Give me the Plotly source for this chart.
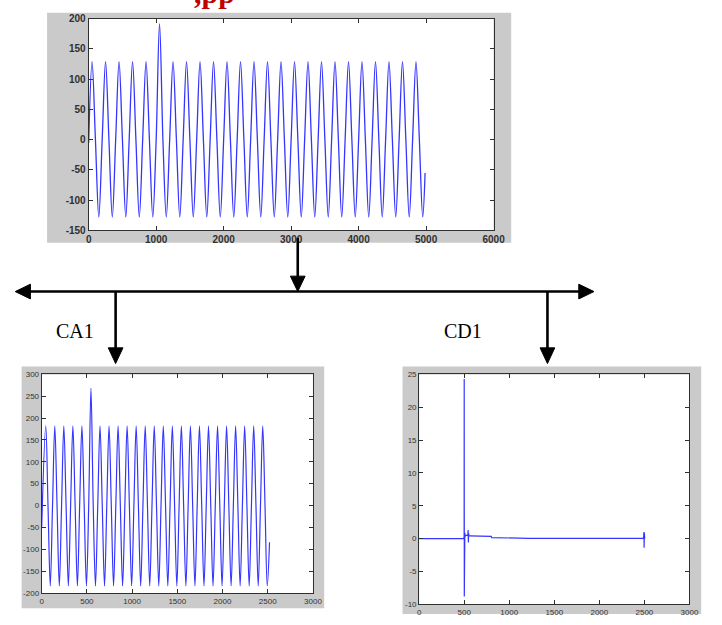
import plotly.graph_objects as go

W, H = 722, 625

# ---------------- data ----------------
# Original signal: sample positions of start, peaks, zero crossings, troughs, end
sig_x = [0] + [50 + 50 * j for j in range(99)] + [4985]
sig_y = [-5,
         129, 0, -128, 0,
         129, 0, -128, 0,
         129, 0, -128, 0,
         129, 0, -128, 0,
         129, 0, -128, 0,
         192, 0, -128, 0,
         129, 0, -128, 0,
         129, 0, -128, 0,
         129, 0, -128, 0,
         129, 0, -128, 0,
         129, 0, -128, 0,
         129, 0, -128, 0,
         129, 0, -128, 0,
         129, 0, -128, 0,
         129, 0, -128, 0,
         129, 0, -128, 0,
         129, 0, -128, 0,
         129, 0, -128, 0,
         129, 0, -128, 0,
         129, 0, -128, 0,
         129, 0, -128, 0,
         129, 0, -128, 0,
         129, 0, -128, 0,
         129, 0, -128, 0,
         129, 0, -128, -55]

# CA1 (approximation coefficients)
ca_x = [0] + [45 + 25 * j for j in range(99)] + [2520]
ca_y = [-50,
        182, 0, -184, 0,
        182, 0, -184, 0,
        182, 0, -184, 0,
        182, 0, -184, 0,
        182, 0, -184, 0,
        268, 0, -184, 0,
        182, 0, -184, 0,
        182, 0, -184, 0,
        182, 0, -184, 0,
        182, 0, -184, 0,
        182, 0, -184, 0,
        182, 0, -184, 0,
        182, 0, -184, 0,
        182, 0, -184, 0,
        182, 0, -184, 0,
        182, 0, -184, 0,
        182, 0, -184, 0,
        182, 0, -184, 0,
        182, 0, -184, 0,
        182, 0, -184, 0,
        182, 0, -184, 0,
        182, 0, -184, 0,
        182, 0, -184, 0,
        182, 0, -184, 0,
        182, 0, -184, -84]

# CD1 (detail coefficients)
cd_x = [0, 495, 499, 500, 501, 503, 505, 507, 510, 515, 540, 543, 546, 549, 552,
        560, 800, 805, 1220, 1225, 2490, 2495, 2497, 2499, 2501, 2503, 2510]
cd_y = [0, 0, 0.3, 24.3, -8.8, 1.3, -1.8, 0.9, 0.3, 0.5, 0.5, 1.3, -0.6, 0.8, 0.4,
        0.4, 0.35, 0.15, 0.1, 0.02, 0.02, 1.0, -1.4, 0.9, -0.8, 0.1, 0.1]

top_xticks = [0, 1000, 2000, 3000, 4000, 5000, 6000]
top_xlabels = ["0", "1000", "2000", "3000", "4000", "5000", "6000"]
top_yticks = [-150, -100, -50, 0, 50, 100, 150, 200]
top_ylabels = ["-150", "-100", "-50", "0", "50", "100", "150", "200"]
bot_xticks = [0, 500, 1000, 1500, 2000, 2500, 3000]
bot_xlabels = ["0", "500", "1000", "1500", "2000", "2500", "3000"]
ca_yticks = [-200, -150, -100, -50, 0, 50, 100, 150, 200, 250, 300]
ca_ylabels = ["-200", "-150", "-100", "-50", "0", "50", "100", "150", "200", "250", "300"]
cd_yticks = [-10, -5, 0, 5, 10, 15, 20, 25]
cd_ylabels = ["-10", "-5", "0", "5", "10", "15", "20", "25"]

label_left = "CA1"
label_right = "CD1"
title_fragment = ",pp"

# ---------------- helpers ----------------
def px(x):
    return x / W

def py(y):
    return 1 - y / H

LINE = "#3535ff"

fig = go.Figure()
fig.add_trace(go.Scatter(x=sig_x, y=sig_y, mode="lines", xaxis="x", yaxis="y",
                         line=dict(color=LINE, width=1.3, shape="spline", smoothing=1.0)))
fig.add_trace(go.Scatter(x=ca_x, y=ca_y, mode="lines", xaxis="x2", yaxis="y2",
                         line=dict(color=LINE, width=1.2, shape="spline", smoothing=1.0)))
fig.add_trace(go.Scatter(x=cd_x, y=cd_y, mode="lines", xaxis="x3", yaxis="y3",
                         line=dict(color=LINE, width=1.2)))

def axis(dom, rng, tv, tt, font, anchor):
    return dict(domain=dom, range=rng, tickvals=tv, ticktext=tt, tickfont=font,
                anchor=anchor, showline=True, linecolor="#303030", linewidth=1,
                mirror="ticks", ticks="inside", ticklen=4, tickcolor="#303030",
                showgrid=False, zeroline=False, fixedrange=True)

top_font = dict(family="Liberation Sans, Arial", size=10, color="#303030", weight="bold")
bot_font = dict(family="Liberation Sans, Arial", size=8, color="#333333")

# plot areas in pixels
TOP = (87.5, 14, 501, 229.5)
BL = (39.5, 376, 316.5, 598.5)
BR = (425, 376, 701, 610)

def dom_x(r):
    return [px(r[0]), px(r[2])]

def dom_y(r):
    return [py(r[3]), py(r[1])]

fig.update_layout(
    width=W, height=H, autosize=False,
    margin=dict(l=0, r=0, t=0, b=0, pad=0),
    paper_bgcolor="white", plot_bgcolor="white",
    showlegend=False,
    xaxis=axis(dom_x(TOP), [0, 6000], top_xticks, top_xlabels, top_font, "y"),
    yaxis=axis(dom_y(TOP), [-150, 200], top_yticks, top_ylabels, top_font, "x"),
    xaxis2=axis(dom_x(BL), [0, 3000], bot_xticks, bot_xlabels, bot_font, "y2"),
    yaxis2=axis(dom_y(BL), [-200, 300], ca_yticks, ca_ylabels, bot_font, "x2"),
    xaxis3=axis(dom_x(BR), [0, 3000], bot_xticks, bot_xlabels, bot_font, "y3"),
    yaxis3=axis(dom_y(BR), [-10, 25], cd_yticks, cd_ylabels, bot_font, "x3"),
)

shapes = []
GREY = "#cacaca"
# grey figure panels and white axes areas
for g, r in [((45, 8, 519, 242), TOP), ((19, 368, 328, 614), BL), ((408, 368, 713, 620), BR)]:
    shapes.append(dict(type="rect", xref="paper", yref="paper", layer="below",
                       x0=px(g[0]), x1=px(g[2]), y0=py(g[3]), y1=py(g[1]),
                       fillcolor=GREY, line=dict(width=0)))
    shapes.append(dict(type="rect", xref="paper", yref="paper", layer="below",
                       x0=px(r[0]), x1=px(r[2]), y0=py(r[3]), y1=py(r[1]),
                       fillcolor="white", line=dict(width=0)))

def seg(x0, y0, x1, y1, w=2.6):
    shapes.append(dict(type="line", xref="paper", yref="paper",
                       x0=px(x0), y0=py(y0), x1=px(x1), y1=py(y1),
                       line=dict(color="black", width=w)))

def tri(pts):
    path = "M " + " L ".join(f"{px(a):.5f},{py(b):.5f}" for a, b in pts) + " Z"
    shapes.append(dict(type="path", xref="paper", yref="paper", path=path,
                       fillcolor="black", line=dict(color="black", width=1)))

HY = 291.7
# horizontal double arrow
seg(26, HY, 590, HY)
tri([(12.5, HY), (28, HY - 7.5), (28, HY + 7.5)])
tri([(603.5, HY), (588, HY - 7.5), (588, HY + 7.5)])
# arrow from top plot down to the bar
seg(301, 237, 301, 278)
tri([(301, HY), (293.5, 276), (308.5, 276)])
# arrows down to CA1 and CD1
for ax_ in (115, 556):
    seg(ax_, HY, ax_, 350)
    tri([(ax_, 365), (ax_ - 7.5, 349), (ax_ + 7.5, 349)])

annotations = [
    dict(text=label_left, x=px(52), y=py(331.5), xref="paper", yref="paper",
         showarrow=False, font=dict(family="Liberation Serif, Times New Roman", size=20, color="black")),
    dict(text=label_right, x=px(491), y=py(331.5), xref="paper", yref="paper",
         showarrow=False, font=dict(family="Liberation Serif, Times New Roman", size=20, color="black")),
    dict(text="<b>" + title_fragment + "</b>", x=px(193), y=py(6), xref="paper", yref="paper",
         xanchor="left", yanchor="bottom", showarrow=False,
         font=dict(family="Liberation Serif, Times New Roman", size=30, color="#c00000")),
]

fig.update_layout(shapes=shapes, annotations=annotations)
css = ("var s='margin:0;padding:0;overflow:hidden;width:722px;height:625px;';"
       "document.documentElement.style.cssText=s;document.body.style.cssText=s;")
fig.write_html("out.html", config={"displayModeBar": False}, post_script=css)
